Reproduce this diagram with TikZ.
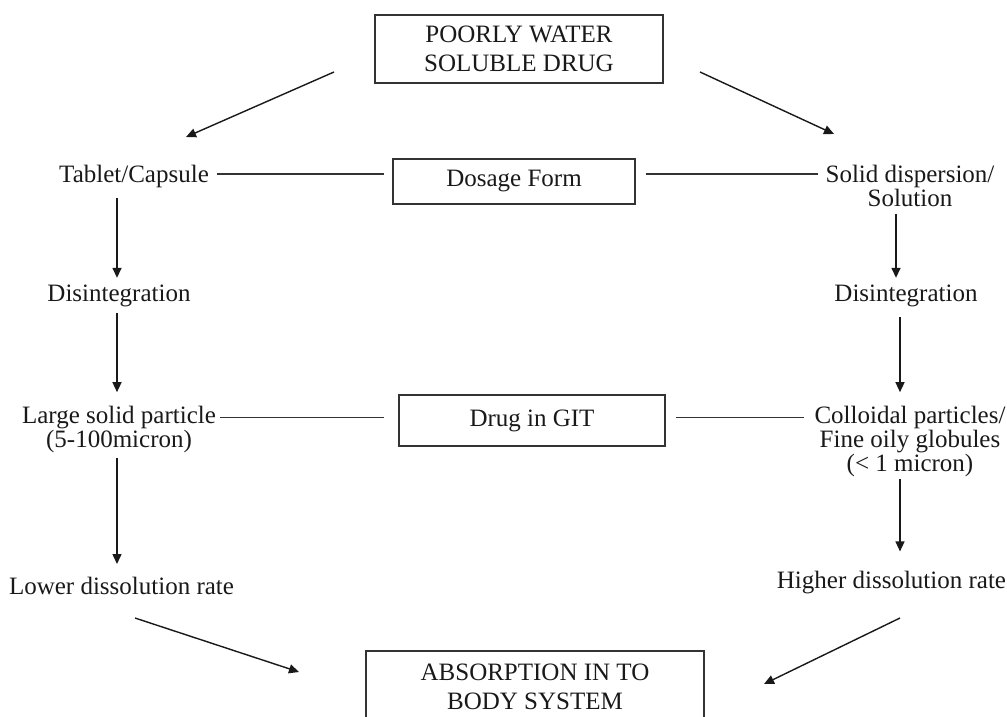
\documentclass[tikz,border=0pt]{standalone}
\usepackage{fontspec}
\setmainfont{Liberation Serif}
\usetikzlibrary{arrows.meta}
\begin{document}
\begin{tikzpicture}[x=1pt,y=-1pt,
  txt/.style={inner sep=0pt, align=center, text=black!90, font=\fontsize{25}{24}\selectfont},
  boxed/.style={draw=black!80, line width=1.3pt, inner sep=0pt, align=center, text=black!90, font=\fontsize{25}{29}\selectfont},
  ln/.style={draw=black!80, line width=1.3pt},
  arr/.style={draw=black!90, line width=1.4pt, -{Triangle[length=10pt,width=9pt]}}]
\useasboundingbox (0,0) rectangle (1007,716);
\clip (0,0) rectangle (1007,716);
% boxes
\node[boxed, minimum width=288pt, minimum height=68pt] (top) at (519,49) {POORLY WATER\\SOLUBLE DRUG};
\node[boxed, minimum width=242pt, minimum height=45pt] (dos) at (514,181.5) {Dosage Form};
\node[boxed, minimum width=266pt, minimum height=51pt] (git) at (532,420.5) {Drug in GIT};
\node[boxed, minimum width=338pt, minimum height=72pt] (abs) at (535,687) {ABSORPTION IN TO\\BODY SYSTEM};
% texts
\node[txt] (tab) at (134,176) {Tablet/Capsule};
\node[txt] (sd) at (910,185.5) {Solid dispersion/\\Solution};
\node[txt] (dis1) at (119,296) {Disintegration};
\node[txt] (dis2) at (906,296) {Disintegration};
\node[txt] (lsp) at (119,429.7) {Large solid particle\\(5-100micron)};
\node[txt] (col) at (910,441.7) {Colloidal particles/\\Fine oily globules\\(< 1 micron)};
\node[txt] (low) at (121.5,586) {Lower dissolution rate};
\node[txt] (high) at (891.5,583) {Higher dissolution rate};
% free ends of diagonal arrows
\coordinate (tl1) at (334,72);
\coordinate (tl2) at (186,137);
\coordinate (tr1) at (700,72);
\coordinate (tr2) at (834,134);
\coordinate (bl1) at (135,618);
\coordinate (bl2) at (299,672);
\coordinate (br1) at (900,618);
\coordinate (br2) at (764,684);
\draw[arr] (tl1) -- (tl2);
\draw[arr] (tr1) -- (tr2);
\draw[arr] (bl1) -- (bl2);
\draw[arr] (br1) -- (br2);
% horizontal connectors
\coordinate (tabE) at ([yshift=2pt]tab.east);
\draw[ln, shorten <=8pt, shorten >=8pt] (tabE) -- (tabE -| dos.west);
\draw[ln, shorten <=10pt, shorten >=7pt] (tabE -| dos.east) -- (tabE -| sd.west);
\coordinate (lspE) at ([yshift=-11pt]lsp.north east);
\draw[ln, shorten <=4pt, shorten >=14pt] (lspE) -- (lspE -| git.west);
\draw[ln, shorten <=10pt, shorten >=10pt] (lspE -| git.east) -- (lspE -| col.west);
% vertical arrows left
\draw[arr, shorten <=10pt, shorten >=7pt] ([xshift=-2pt]dis1.north |- tab.south) -- ([xshift=-2pt]dis1.north);
\draw[arr, shorten <=6pt, shorten >=14pt] ([xshift=-2pt]dis1.south) -- ([xshift=-2pt]dis1.south |- lsp.north);
\draw[arr, shorten <=5pt, shorten >=13pt] ([xshift=-2pt]lsp.south) -- ([xshift=-2pt]lsp.south |- low.north);
% vertical arrows right
\draw[arr, shorten <=7pt, shorten >=7pt] ([xshift=-10pt]dis2.north |- sd.south) -- ([xshift=-10pt]dis2.north);
\draw[arr, shorten <=10pt, shorten >=14pt] ([xshift=-6pt]dis2.south) -- ([xshift=-6pt]dis2.south |- col.north);
\draw[arr, shorten <=2pt, shorten >=20pt] ([xshift=-10pt]col.south) -- ([xshift=-10pt]col.south |- high.north);
\end{tikzpicture}
\end{document}
